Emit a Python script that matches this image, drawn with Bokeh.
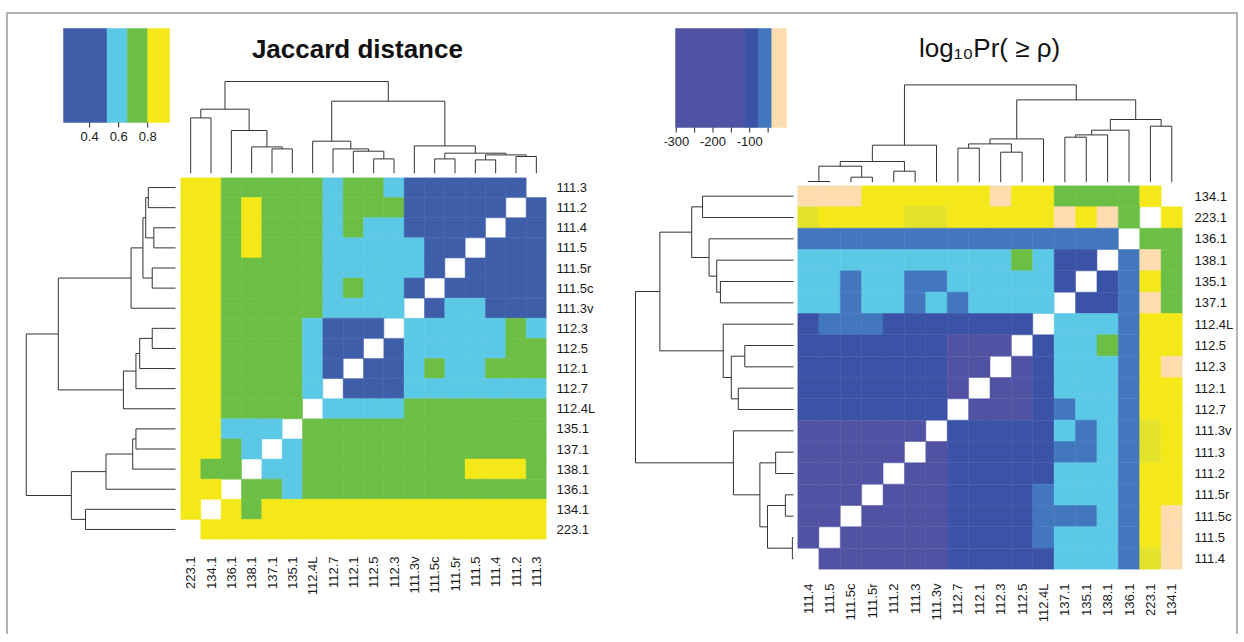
import math
from bokeh.plotting import figure
from bokeh.layouts import row, column
from bokeh.models import Range1d, FixedTicker, ColumnDataSource
from bokeh.core.properties import value
from bokeh.embed import file_html
from bokeh.resources import INLINE

FONT = "Liberation Sans"

# ---------------- data: Jaccard distance panel ----------------
jac_labels = ["223.1", "134.1", "136.1", "138.1", "137.1", "135.1", "112.4L", "112.7",
              "112.1", "112.5", "112.3", "111.3v", "111.5c", "111.5r", "111.5", "111.4",
              "111.2", "111.3"]
# rows shown top -> bottom (reverse of jac_labels), columns left -> right (jac_labels)
# D <0.52, L 0.52-0.66, G 0.66-0.80, Y >0.80, W = diagonal (blank)
jac_rows = [
    "YYGGGGGLGGLDDDDDDW",
    "YYGYGGGLGGGDDDDDWD",
    "YYGYGGGLGLLDDDDWDD",
    "YYGYGGGLLLLLDDWDDD",
    "YYGGGGGLLLLLDWDDDD",
    "YYGGGGGLGLLDWDDDDD",
    "YYGGGGGLLLLWDLLDDD",
    "YYGGGGLDDDWLLLLLGL",
    "YYGGGGLDDWDLLLLLGG",
    "YYGGGGLDWDDLGLLGGG",
    "YYGGGGLWDDDLLLLLLL",
    "YYGGGGWLLLLGGGGGGG",
    "YYLLLWGGGGGGGGGGGG",
    "YYGLWLGGGGGGGGGGGG",
    "YGGWLLGGGGGGGGYYYG",
    "YYWGGLGGGGGGGGGGGG",
    "YWYGYYYYYYYYYYYYYY",
    "WYYYYYYYYYYYYYYYYY",
]
# dendrogram: [merge height, child, child]
jac_tree = [91.7,
            [64.0, [55.3, "223.1", "134.1"],
                   [42.7, "136.1", [26.3, "138.1", [24.3, "137.1", "135.1"]]]],
            [72.0, [32.0, "112.4L", [24.3, "112.7", [22.0, "112.1", [14.3, "112.5", "112.3"]]]],
                   [27.3, "111.3v", [20.0, [14.3, "111.5c", "111.5r"],
                                           [18.3, [13.3, "111.5", "111.4"], [16.7, "111.2", "111.3"]]]]]]
jac_key_breaks = [0.22, 0.52, 0.66, 0.80, 0.95]
jac_key_codes = ["D", "L", "G", "Y"]
jac_key_ticks = [0.4, 0.6, 0.8]
jac_key_tick_labels = ["0.4", "0.6", "0.8"]

# ---------------- data: log10 Pr panel ----------------
pr_labels = ["111.4", "111.5", "111.5c", "111.5r", "111.2", "111.3", "111.3v", "112.7",
             "112.1", "112.3", "112.5", "112.4L", "137.1", "135.1", "138.1", "136.1",
             "223.1", "134.1"]
pr_rows = [
    "KKKYYYYYYKYYGGGGYW",
    "XYYYYXXYYYYYKYKGWY",
    "MMMMMMMMMMMMMMMWGG",
    "LLLLLLLLLLGLBBWMKG",
    "LLMLLMMLLLLLBWBMYG",
    "LLMLLMLMLLLLWBBMKG",
    "BMMMBBBBBBBWLLLMYY",
    "BBBBBBBPPPWBLLGMYY",
    "BBBBBBBPPWPBLLLMYK",
    "BBBBBBBPWPPBLLLMYY",
    "BBBBBBBWPPPBMLLMYY",
    "PPPPPPWBBBBBLMLMXY",
    "PPPPPWPBBBBBMMLMXY",
    "PPPPWPPBBBBBLLLMYY",
    "PPPWPPPBBBBMLLLMYY",
    "PPWPPPPBBBBMMMLMYK",
    "PWPPPPPBBBBMLLLMYK",
    "WPPPPPPBBBBBLLLMXK",
]
pr_tree = [97.3,
           [37.0, [20.7, [16.0, [0.7, "111.4", "111.5"], [5.0, "111.5c", "111.5r"]],
                         [11.0, "111.2", "111.3"]], "111.3v"],
           [82.3, [43.3, [38.3, [34.0, "112.7", "112.1"], [30.0, "112.3", "112.5"]], "112.4L"],
                  [62.7, [52.0, [47.3, [45.0, "137.1", "135.1"], "138.1"], "136.1"],
                         [56.0, "223.1", "134.1"]]]]
pr_key_breaks = [-302, -113, -76, -40, 0]
pr_key_codes = ["P", "B", "M", "K"]
pr_key_ticks = [-300, -250, -200, -150, -100, -50]
pr_key_tick_labels = ["-300", "", "-200", "", "-100", ""]

COLORS = {
    "D": "#3F5EAA", "L": "#5BC8E6", "G": "#6DBE45", "Y": "#F5E818",
    "P": "#5152A3", "B": "#3A53A6", "M": "#4277BE", "K": "#FDDCB0", "X": "#E2E32A",
}
LINE = "#333333"


def heatmap(labels, rows, fw, fh, rborder, bborder, ystand, xstand):
    n = len(labels)
    xs, ys, cs = [], [], []
    for r, codes in enumerate(rows):
        for c, code in enumerate(codes):
            if code == "W":
                continue
            xs.append(c)
            ys.append(n - 1 - r)
            cs.append(COLORS[code])
    src = ColumnDataSource(dict(x=xs, y=ys, c=cs))
    p = figure(frame_width=fw, frame_height=fh,
               x_range=Range1d(-0.5, n - 0.5), y_range=Range1d(-0.5, n - 0.5),
               y_axis_location="right", x_axis_location="below",
               toolbar_location=None, output_backend="svg",
               min_border_left=0, min_border_right=rborder,
               min_border_top=0, min_border_bottom=bborder)
    p.rect(x="x", y="y", width=1, height=1, fill_color="c", line_color="c",
           line_width=0.5, source=src)
    p.grid.visible = False
    p.outline_line_color = None
    for ax, st in ((p.xaxis[0], xstand), (p.yaxis[0], ystand)):
        ax.ticker = FixedTicker(ticks=list(range(n)))
        ax.major_label_overrides = {i: lab for i, lab in enumerate(labels)}
        ax.axis_line_color = None
        ax.major_tick_line_color = None
        ax.minor_tick_line_color = None
        ax.major_tick_out = 0
        ax.major_tick_in = 0
        ax.major_label_standoff = st
        ax.major_label_text_font = FONT
        ax.major_label_text_font_size = "13px"
        ax.major_label_text_color = "#1a1a1a"
    p.xaxis.major_label_orientation = math.pi / 2
    return p


def dendro_segments(tree, labels):
    pos = {lab: i for i, lab in enumerate(labels)}
    segs = []

    def walk(node):
        if isinstance(node, str):
            return pos[node], 0.0
        h, a, b = node
        pa, ha = walk(a)
        pb, hb = walk(b)
        segs.append((pa, ha, pa, h))
        segs.append((pb, hb, pb, h))
        segs.append((pa, h, pb, h))
        return (pa + pb) / 2.0, h

    walk(tree)
    return segs


def blank(p):
    p.grid.visible = False
    p.outline_line_color = None
    p.axis.visible = False


def top_dendro(tree, labels, fw, fh, rborder, yr, title, tx, ty, tsize, tstyle):
    n = len(labels)
    segs = dendro_segments(tree, labels)
    p = figure(frame_width=fw, frame_height=fh, x_range=Range1d(-0.5, n - 0.5),
               y_range=Range1d(*yr), toolbar_location=None, output_backend="svg",
               min_border_left=0, min_border_right=rborder,
               min_border_top=0, min_border_bottom=0,
               x_axis_location=None, y_axis_location=None, title=None)
    p.segment(x0=[s[0] for s in segs], y0=[s[1] for s in segs],
              x1=[s[2] for s in segs], y1=[s[3] for s in segs],
              line_color=LINE, line_width=1)
    blank(p)
    p.text(x=[tx], y=[ty], text=[title], text_align="center",
           text_baseline="middle", text_font=value(FONT),
           text_font_size=tsize, text_font_style=tstyle, text_color="#111111")
    return p


def left_dendro(tree, labels, fw, fh, bborder, xr):
    n = len(labels)
    segs = dendro_segments(tree, labels)
    p = figure(frame_width=fw, frame_height=fh, x_range=Range1d(*xr),
               y_range=Range1d(-0.5, n - 0.5), toolbar_location=None,
               output_backend="svg", min_border_left=0, min_border_right=0,
               min_border_top=0, min_border_bottom=bborder,
               x_axis_location=None, y_axis_location=None, title=None)
    p.segment(x0=[s[1] for s in segs], y0=[s[0] for s in segs],
              x1=[s[3] for s in segs], y1=[s[2] for s in segs],
              line_color=LINE, line_width=1)
    blank(p)
    return p


def color_key(breaks, codes, ticks, tick_labels, bar_w, fh, bl, br, bar_lo, bar_hi, pad):
    # frame fills the whole cell height; the bar occupies pixels bar_lo..bar_hi
    # measured up from the frame bottom; `pad` px of frame added left and right of the bar
    bar_h = float(bar_hi - bar_lo)
    upp = (breaks[-1] - breaks[0]) / float(bar_w)
    xr = (breaks[0] - pad * upp, breaks[-1] + pad * upp)
    yr = (-bar_lo / bar_h, 1.0 + (fh - bar_hi) / bar_h)
    cols = [COLORS[c] for c in codes]
    src = ColumnDataSource(dict(l=breaks[:-1], r=breaks[1:], c=cols))
    p = figure(frame_width=bar_w + 2 * pad, frame_height=fh, x_range=Range1d(*xr),
               y_range=Range1d(*yr), toolbar_location=None, output_backend="svg",
               min_border_left=bl - pad, min_border_right=br - pad, min_border_top=0,
               min_border_bottom=0, x_axis_location=None, y_axis_location=None,
               title=None)
    p.quad(left="l", right="r", bottom=0, top=1, fill_color="c", line_color="c",
           line_width=0.5, source=src)
    blank(p)
    n = len(ticks)
    p.segment(x0=ticks, y0=[0] * n, x1=ticks, y1=[-5 / bar_h] * n,
              line_color="#222222", line_width=1)
    lab_x = [t for t, l in zip(ticks, tick_labels) if l]
    lab_t = [l for l in tick_labels if l]
    p.text(x=lab_x, y=[-9 / bar_h] * len(lab_x), text=lab_t, text_align="center",
           text_baseline="top", text_font=value(FONT), text_font_size="13px",
           text_color="#1a1a1a")
    return p


# ---------------- left panel ----------------
keyL = color_key(jac_key_breaks, jac_key_codes, jac_key_ticks, jac_key_tick_labels,
                 106, 163, 55, 11, 55, 149, 10)
dtopL = top_dendro(jac_tree, jac_labels, 366, 163, 70, (-4.3, 158.7),
                   "Jaccard distance", 8.2, 124.7, "26px", "bold")
dleftL = left_dendro(jac_tree, jac_labels, 172, 362, 80, (102.6, -3.07))
heatL = heatmap(jac_labels, jac_rows, 366, 362, 70, 80, 10, 17)
panelL = column(row(keyL, dtopL), row(dleftL, heatL))

# ---------------- right panel ----------------
keyR = color_key(pr_key_breaks, pr_key_codes, pr_key_ticks, pr_key_tick_labels,
                 111, 171, 59, 11, 58, 157, 11)
dtopR = top_dendro(pr_tree, pr_labels, 385, 171, 52, (-3.3, 167.7),
                   "log\u2081\u2080Pr( \u2265 \u03c1)", 8.48, 134.7, "26px", "normal")
dleftR = left_dendro(pr_tree, pr_labels, 181, 384, 65, (109.0, -2.46))
heatR = heatmap(pr_labels, pr_rows, 385, 384, 52, 65, 12, 14)
panelR = column(row(keyR, dtopR), row(dleftR, heatR))

page = row(panelL, panelR, margin=(12, 0, 0, 6),
           styles={"border-top": "2px solid #b4b4b4",
                   "border-left": "2px solid #b4b4b4",
                   "border-right": "2px solid #b4b4b4"})

with open("out.html", "w") as f:
    f.write(file_html(page, INLINE))
